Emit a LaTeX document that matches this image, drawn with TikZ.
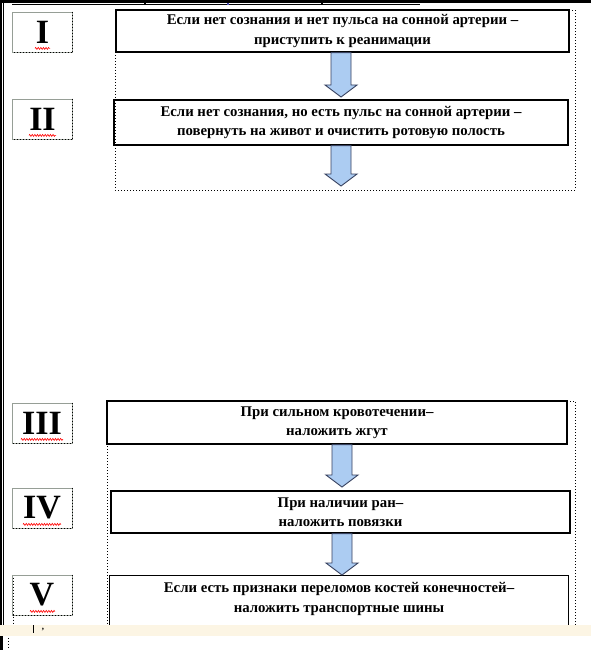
\documentclass[tikz,border=0pt]{standalone}
\usepackage{fontspec}
\setmainfont{Liberation Serif}
\usetikzlibrary{calc,decorations.pathmorphing}
\definecolor{arrowfill}{RGB}{172,204,242}
\definecolor{arrowline}{RGB}{55,65,95}
\definecolor{bandcol}{RGB}{252,245,228}
\definecolor{lblgray}{RGB}{150,158,150}
\begin{document}
\begin{tikzpicture}[x=1pt,y=-1pt,
  mainbox/.style={draw=black, line width=1.3pt, align=center, inner sep=0pt,
     font=\fontsize{14.8}{19.5}\selectfont\bfseries},
  textonly/.style={align=center, inner sep=0pt,
     font=\fontsize{14.8}{19.5}\selectfont\bfseries},
  lblbox/.style={draw=lblgray, line width=0.8pt, minimum width=60pt, minimum height=40pt,
     inner sep=0pt, font=\fontsize{34}{34}\selectfont\bfseries},
  lbldots/.style={black, line width=0.9pt, dash pattern=on 0.9pt off 2.1pt},
  groupframe/.style={black, line width=0.9pt, dash pattern=on 0.9pt off 2.1pt},
  blockarrow/.style={fill=arrowfill, draw=arrowline, line width=0.9pt, line join=miter},
  squiggle/.style={red, line width=0.6pt, decorate,
     decoration={zigzag, amplitude=1pt, segment length=2.6pt}}
]
\useasboundingbox (0,0) rectangle (591,650);
\fill[white] (0,0) rectangle (591,650);

% group frames (dotted)
\draw[groupframe] (115,10) rectangle (575,190);
\draw[groupframe] (107,401) rectangle (575,633);

% main boxes
\node[mainbox, minimum width=453pt, minimum height=42pt] (b1) at (342.5,31)
  {Если нет сознания и нет пульса на сонной артерии –\\приступить к реанимации};
\node[mainbox, minimum width=454pt, minimum height=45pt] (b2) at (341,122.5)
  {Если нет сознания, но есть пульс на сонной артерии –\\повернуть на живот и очистить ротовую полость};
\node[mainbox, minimum width=460pt, minimum height=43pt] (b3) at (337,422.5)
  {При сильном кровотечении–\\наложить жгут};
\node[mainbox, minimum width=459pt, minimum height=42pt] (b4) at (340.5,512)
  {При наличии ран–\\наложить повязки};
\node[textonly, minimum width=458pt, minimum height=44pt] (b5) at (339,599)
  {Если есть признаки переломов костей конечностей–\\наложить транспортные шины};
\draw[line width=1.3pt] ($(b5.south west)+(0,10)$) |- ($(b5.north east)+(0,-1)$) -- ++(0,56);

% arrow tips
\coordinate (t1) at (341,97);
\coordinate (t2) at (341,186);
\coordinate (t3) at (342,487);
\coordinate (t4) at (342,575);

\foreach \s/\t in {b1/t1, b2/t2, b3/t3, b4/t4}{
  \draw[blockarrow] let \p1=(\s.south), \p2=(\t) in
    (\x2-10pt,\y1) -- (\x2-10pt,\y2+12pt) -- (\x2-16pt,\y2+12pt) -- (\x2,\y2)
    -- (\x2+16pt,\y2+12pt) -- (\x2+10pt,\y2+12pt) -- (\x2+10pt,\y1) -- cycle;
}

% label boxes
\node[lblbox] (l1) at (42.5,32) {I};
\node[lblbox] (l2) at (42.5,119) {II};
\node[lblbox] (l3) at (42,423) {III};
\node[lblbox] (l4) at (42,508) {IV};
\node[lblbox] (l5) at (42,595) {V};
\foreach \l in {l1,l2,l3,l4}{
  \draw[lbldots] (\l.north east) -- (\l.south east) -- (\l.south west);
}
\draw[lbldots] (l5.north east) -- (l5.south east) -- (l5.south west);
\draw[lbldots] ($(l5.north west)+(1.5,3)$) -- ($(l5.south west)+(1.5,10)$);

% spell-check squiggles
\draw[squiggle] ($(l1.south)+(-7.5,-4)$) -- ++(15,0);
\draw[squiggle] ($(l2.south)+(-13.5,-4)$) -- ++(27,0);
\draw[squiggle] ($(l3.south)+(-21,-4)$) -- ++(42,0);
\draw[squiggle] ($(l4.south)+(-19,-4)$) -- ++(38,0);
\draw[squiggle] ($(l5.south)+(-12,-4)$) -- ++(25,0);

% page borders
\fill[black] (0,0) rectangle (591,3);
\draw[line width=0.8pt] (12,4.8) -- (420,4.8);
\draw[line width=1.6pt] (145,3) -- (145,5.5);
\draw[line width=1.2pt, gray!60!blue] (228,3) -- (228,5.5);
\draw[line width=1.6pt] (322,3) -- (322,5.5);
\fill[black] (0,0) rectangle (2.2,650);
\draw[line width=0.9pt] (3.8,3) -- (3.8,625);

% bottom band
\fill[bandcol] (0,625) rectangle (591,636);
\fill[black] (0,636) rectangle (2.6,650);
\draw[lbldots] (8,638) -- (8,650);
\draw[line width=1.2pt] (33.5,625) -- (33.5,633);
\node[inner sep=0pt, font=\fontsize{9}{9}\selectfont\bfseries] (cm) at (43,630) {,};
\end{tikzpicture}
\end{document}
